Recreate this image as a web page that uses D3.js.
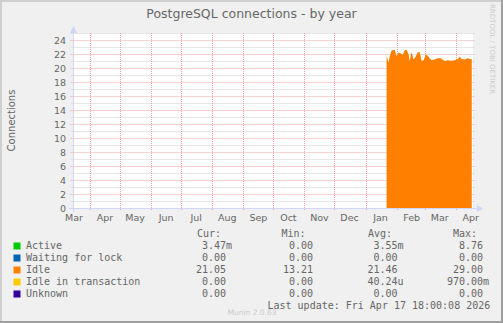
<!DOCTYPE html>
<html>
<head>
<meta charset="utf-8">
<script src="https://cdn.jsdelivr.net/npm/d3@7"></script>
<style>
  html, body { margin: 0; padding: 0; background: #f0f0f0; }
  svg { display: block; }
  text { font-family: "DejaVu Sans", sans-serif; fill: #666; }
  .mono { font-family: "DejaVu Sans Mono", monospace; white-space: pre; }
</style>
</head>
<body>
<div id="chart"></div>
<script>
// Idle connections, year view (daily averages)
var idleDates = ["2026-01-22", "2026-01-24", "2026-01-25", "2026-01-27", "2026-01-30", "2026-02-01",
    "2026-02-03", "2026-02-05", "2026-02-07", "2026-02-09", "2026-02-11", "2026-02-13", "2026-02-14",
    "2026-02-16", "2026-02-18", "2026-02-20", "2026-02-22", "2026-02-24", "2026-02-26", "2026-02-28",
    "2026-03-02", "2026-03-04", "2026-03-06", "2026-03-08", "2026-03-11", "2026-03-14", "2026-03-17",
    "2026-03-21", "2026-03-24", "2026-03-27", "2026-03-31", "2026-04-03", "2026-04-05", "2026-04-07",
    "2026-04-10", "2026-04-13", "2026-04-15", "2026-04-17"];
var idleValues = [21.76, 20.8, 21.6, 22.5, 22.6, 21.7,
    22.2, 22.1, 21.9, 22.5, 22.6, 21.9, 21.0,
    22.3, 21.2, 21.6, 22.2, 22.3, 21.0, 21.1,
    21.9, 21.8, 21.4, 21.1, 21.2, 21.4, 21.4,
    21.0, 21.1, 21.05, 21.1, 21.3, 21.6, 21.3,
    21.2, 21.4, 21.3, 21.3];

// legend
var seriesNames = ["Active", "Waiting for lock", "Idle", "Idle in transaction", "Unknown"];
var seriesColors = ["#00cc00", "#0066b3", "#ff8000", "#ffcc00", "#330099"];
var curValues = ["  3.47m", "  0.00 ", " 21.05 ", "  0.00 ", "  0.00 "];
var minValues = ["  0.00 ", "  0.00 ", " 13.21 ", "  0.00 ", "  0.00 "];
var avgValues = ["  3.55m", "  0.00 ", " 21.46 ", " 40.24u", "  0.00 "];
var maxValues = ["  8.76 ", "  0.00 ", " 29.00 ", "970.00m", "  0.00 "];

var yTicks = [0, 2, 4, 6, 8, 10, 12, 14, 16, 18, 20, 22, 24];

var W = 503, H = 323;
var parse = d3.utcParse("%Y-%m-%d");

var svg = d3.select("#chart").append("svg")
    .attr("width", W).attr("height", H);

// background + rrdtool shade border
svg.append("rect").attr("width", W).attr("height", H).attr("fill", "#f0f0f0");
svg.append("path").attr("d", "M0,0H" + W + "V2H2V" + H + "H0Z").attr("fill", "#cfcfcf");
svg.append("path").attr("d", "M" + W + ",0V" + H + "H0V" + (H - 2) + "H" + (W - 2) + "V0Z").attr("fill", "#9e9e9e");

var x = d3.scaleUtc()
    .domain([new Date(Date.UTC(2025, 2, 15)), new Date(Date.UTC(2026, 3, 18, 6))])
    .range([73, 473]);
var y = d3.scaleLinear().domain([0, 25]).range([208, 33]);

// canvas
svg.append("rect").attr("x", 73).attr("y", 33).attr("width", 400).attr("height", 175).attr("fill", "#fff");

// title
svg.append("text").attr("x", 251.5).attr("y", 18).attr("text-anchor", "middle")
    .style("font-size", "12.5px").text("PostgreSQL connections - by year");

// minor horizontal grid
var grid = svg.append("g");
d3.range(1, 26, 2).forEach(function (v) {
    grid.append("line").attr("x1", 71.5).attr("x2", 475).attr("y1", y(v) + 0.5).attr("y2", y(v) + 0.5)
        .attr("stroke", "#cccccc").attr("stroke-dasharray", "1,1");
});
// major horizontal grid
yTicks.forEach(function (v) {
    if (v === 0) return;
    grid.append("line").attr("x1", 70.5).attr("x2", 475).attr("y1", y(v) + 0.5).attr("y2", y(v) + 0.5)
        .attr("stroke", "#f0a2a2").attr("stroke-dasharray", "1,1");
});
// month grid
var months = d3.utcMonth.range(x.domain()[0], x.domain()[1]);
months.forEach(function (m) {
    var px = Math.round(x(m)) + 0.5;
    grid.append("line").attr("x1", px).attr("x2", px).attr("y1", 33).attr("y2", 210)
        .attr("stroke", "#f0a2a2").attr("stroke-dasharray", "1,1");
});

// idle area
var idleData = idleDates.map(function (d, i) { return {date: parse(d), value: idleValues[i]}; });
var area = d3.area()
    .x(function (d) { return x(d.date); })
    .y0(y(0))
    .y1(function (d) { return y(d.value); });
svg.append("path").datum(idleData).attr("d", area).attr("fill", "#ff8000");

// axes (rrdtool style)
var axisCol = "#cfd6f8";
svg.append("line").attr("x1", 69).attr("x2", 478).attr("y1", 208.5).attr("y2", 208.5).attr("stroke", axisCol);
svg.append("line").attr("x1", 73.5).attr("x2", 73.5).attr("y1", 212).attr("y2", 29).attr("stroke", axisCol);
svg.append("path").attr("d", "M477,205L483,208.5L477,212Z").attr("fill", axisCol);
svg.append("path").attr("d", "M70,33L73.5,26L77,33Z").attr("fill", axisCol);

// y tick labels
svg.selectAll(".ytick").data(yTicks).enter().append("text")
    .attr("x", 66).attr("y", function (d) { return y(d) + 4; })
    .attr("text-anchor", "end").style("font-size", "9.5px")
    .text(function (d) { return d; });

// month labels, centred mid-month
var labelMonths = d3.utcMonth.range(d3.utcMonth.floor(x.domain()[0]), x.domain()[1]);
labelMonths.forEach(function (m) {
    var c = x(d3.utcDay.offset(m, 15));
    if (c < 70 || c > 476) return;
    svg.append("text").attr("x", c).attr("y", 221).attr("text-anchor", "middle")
        .style("font-size", "9.5px").text(d3.utcFormat("%b")(m));
});

// vertical label
svg.append("text").attr("transform", "translate(15,120.5) rotate(-90)")
    .attr("text-anchor", "middle").style("font-size", "10px").text("Connections");

// watermark
svg.append("text").attr("transform", "translate(490,4) rotate(90)")
    .style("font-size", "7px").style("fill", "#cccccc").text("RRDTOOL / TOBI OETIKER");
svg.append("text").attr("x", 252).attr("y", 315).attr("text-anchor", "middle")
    .style("font-size", "7.5px").style("fill", "#cccccc").text("Munin 2.0.63");

// legend
var rowY = function (i) { return 249 + i * 12; };
var heads = [["Cur:", 197], ["Min:", 281.5], ["Avg:", 368], ["Max:", 453]];
heads.forEach(function (h) {
    svg.append("text").attr("class", "mono").attr("x", h[1]).attr("y", 237)
        .style("font-size", "10px").text(h[0]);
});
var cols = [[curValues, 190], [minValues, 277], [avgValues, 361.5], [maxValues, 447]];
seriesNames.forEach(function (name, i) {
    svg.append("rect").attr("x", 13.5).attr("y", rowY(i) - 6.5).attr("width", 7).attr("height", 7)
        .attr("fill", seriesColors[i]);
    svg.append("text").attr("class", "mono").attr("x", 26).attr("y", rowY(i))
        .style("font-size", "10px").text(name);
    cols.forEach(function (c) {
        svg.append("text").attr("class", "mono").attr("x", c[1]).attr("y", rowY(i))
            .style("font-size", "10px").text(c[0][i]);
    });
});
svg.append("text").attr("class", "mono").attr("x", 267.5).attr("y", 309)
    .style("font-size", "10px").text("Last update: Fri Apr 17 18:00:08 2026");
</script>
</body>
</html>
